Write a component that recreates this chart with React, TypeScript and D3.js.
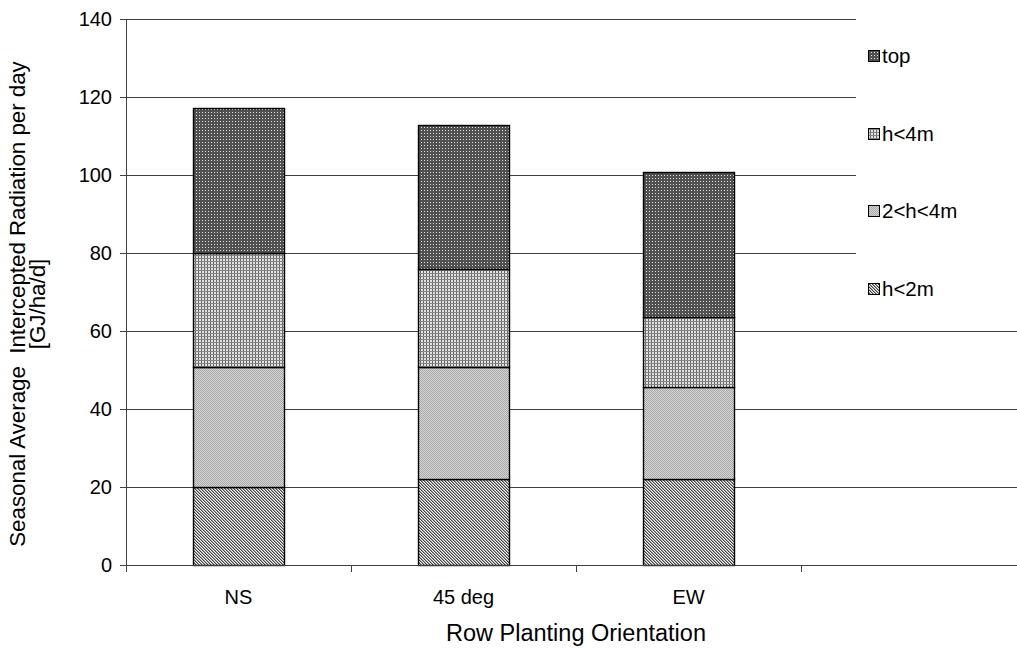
import React from "react";
import * as d3 from "d3";

// Row orientations (the fourth slot on the axis is left empty)
const categories = ["NS", "45 deg", "EW", ""];
// Stacked layers, bottom to top
const seriesNames = ["h<2m", "2<h<4m", "h<4m", "top"];
const hLt2m = [20.0, 22.0, 22.0];
const h2to4m = [30.8, 28.8, 23.6];
const hLt4m = [29.2, 25.1, 18.0];
const topLayer = [37.2, 36.9, 37.2];
const yTicks = [0, 20, 40, 60, 80, 100, 120, 140];
const legendOrder = ["top", "h<4m", "2<h<4m", "h<2m"];

const W = 1017;
const H = 648;
const margin = { left: 126, top: 19, right: -9, bottom: 83 };

const patternId: Record<string, string> = {
  "h<2m": "pat-diag",
  "2<h<4m": "pat-light",
  "h<4m": "pat-grid",
  top: "pat-dark",
};

export default function App() {
  const x0 = margin.left;
  const x1 = W - margin.right;
  const y0 = H - margin.bottom;
  const y1 = margin.top;

  const x = d3.scaleBand<string>().domain(categories.map((c, i) => String(i))).range([x0, x1]).paddingInner(0).paddingOuter(0);
  const y = d3.scaleLinear().domain([0, 140]).range([y0, y1]);

  const rows = [0, 1, 2].map((i) => ({
    cat: String(i),
    "h<2m": hLt2m[i],
    "2<h<4m": h2to4m[i],
    "h<4m": hLt4m[i],
    top: topLayer[i],
  }));
  const stacked = d3.stack<any>().keys(seriesNames)(rows);

  const barW = 91;
  const fontFam = "'Liberation Sans', Arial, sans-serif";
  const legendX = 868;
  const legendYs = [56, 134, 211, 289];

  return (
    <svg width={W} height={H} style={{ position: "absolute", left: 0, top: 0, background: "#fff" }} fontFamily={fontFam}>
      <defs>
        <pattern id="pat-dark" width={3} height={3} patternUnits="userSpaceOnUse">
          <rect width={3} height={3} fill="#505050" />
          <rect x={1} y={1} width={1} height={1} fill="#e0e0e0" />
        </pattern>
        <pattern id="pat-grid" width={3} height={3} patternUnits="userSpaceOnUse">
          <rect width={3} height={3} fill="#e2e2e2" />
          <rect x={0} y={0} width={1} height={3} fill="#666666" />
          <rect x={0} y={0} width={3} height={1} fill="#858585" />
        </pattern>
        <pattern id="pat-light" width={2} height={2} patternUnits="userSpaceOnUse">
          <rect width={2} height={2} fill="#d6d6d6" />
          <rect x={0} y={0} width={1} height={1} fill="#a8a8a8" />
          <rect x={1} y={1} width={1} height={1} fill="#a8a8a8" />
        </pattern>
        <pattern id="pat-diag" width={3} height={3} patternUnits="userSpaceOnUse">
          <rect width={3} height={3} fill="#f0f0f0" />
          <rect x={0} y={0} width={1} height={1} fill="#484848" />
          <rect x={1} y={1} width={1} height={1} fill="#484848" />
          <rect x={2} y={2} width={1} height={1} fill="#484848" />
          <rect x={1} y={0} width={1} height={1} fill="#a0a0a0" />
          <rect x={2} y={1} width={1} height={1} fill="#a0a0a0" />
          <rect x={0} y={2} width={1} height={1} fill="#a0a0a0" />
        </pattern>
      </defs>

      {/* horizontal gridlines */}
      {yTicks.filter((t) => t > 0).map((t) => (
        <line key={t} x1={x0} x2={x1} y1={Math.round(y(t)) + 0.5} y2={Math.round(y(t)) + 0.5} stroke="#404040" strokeWidth={1} />
      ))}

      {/* stacked bars */}
      {stacked.map((layer) =>
        layer.map((d, i) => {
          const cx = (x(String(i)) as number) + x.bandwidth() / 2;
          const top = Math.round(y(d[1]));
          const bot = Math.round(y(d[0]));
          return (
            <rect
              key={layer.key + i}
              x={Math.round(cx - barW / 2) + 0.5}
              y={top + 0.5}
              width={barW}
              height={bot - top}
              fill={`url(#${patternId[layer.key]})`}
              stroke="#000"
              strokeWidth={1.4}
            />
          );
        })
      )}

      {/* y axis */}
      <line x1={x0 + 0.5} x2={x0 + 0.5} y1={y1} y2={y0} stroke="#404040" />
      {yTicks.map((t) => (
        <g key={t}>
          <line x1={x0 - 6} x2={x0} y1={Math.round(y(t)) + 0.5} y2={Math.round(y(t)) + 0.5} stroke="#404040" />
          <text x={x0 - 14} y={y(t)} dy="0.36em" textAnchor="end" fontSize={20} fill="#000">
            {t}
          </text>
        </g>
      ))}

      {/* x axis */}
      <line x1={x0} x2={x1} y1={Math.round(y0) + 0.5} y2={Math.round(y0) + 0.5} stroke="#404040" />
      {categories.map((c, i) => {
        const bx = x(String(i)) as number;
        return (
          <g key={i}>
            <line x1={Math.round(bx) + 0.5} x2={Math.round(bx) + 0.5} y1={y0} y2={y0 + 7} stroke="#404040" />
            {c && (
              <text x={bx + x.bandwidth() / 2} y={y0 + 39} textAnchor="middle" fontSize={20} fill="#000">
                {c}
              </text>
            )}
          </g>
        );
      })}

      {/* legend */}
      <rect x={856} y={12} width={W - 856} height={308} fill="#fff" />
      {legendOrder.map((k, i) => (
        <g key={k}>
          <rect x={legendX + 0.5} y={legendYs[i] - 5.5} width={11} height={11} fill={`url(#${patternId[k]})`} stroke="#000" strokeWidth={1} />
          <text x={legendX + 14} y={legendYs[i]} dy="0.36em" fontSize={20.5} fill="#000">
            {k}
          </text>
        </g>
      ))}

      {/* axis titles */}
      <text x={(x0 + x1) / 2} y={641} textAnchor="middle" fontSize={23.5} fill="#000">
        Row Planting Orientation
      </text>
      <g transform={`translate(0, 304) rotate(-90)`}>
        <text x={0} y={25} textAnchor="middle" fontSize={22.3} fill="#000">
          {"Seasonal Average\u00a0\u00a0Intercepted Radiation per day"}
        </text>
        <text x={0} y={45} textAnchor="middle" fontSize={22.3} fill="#000">
          [GJ/ha/d]
        </text>
      </g>
    </svg>
  );
}
